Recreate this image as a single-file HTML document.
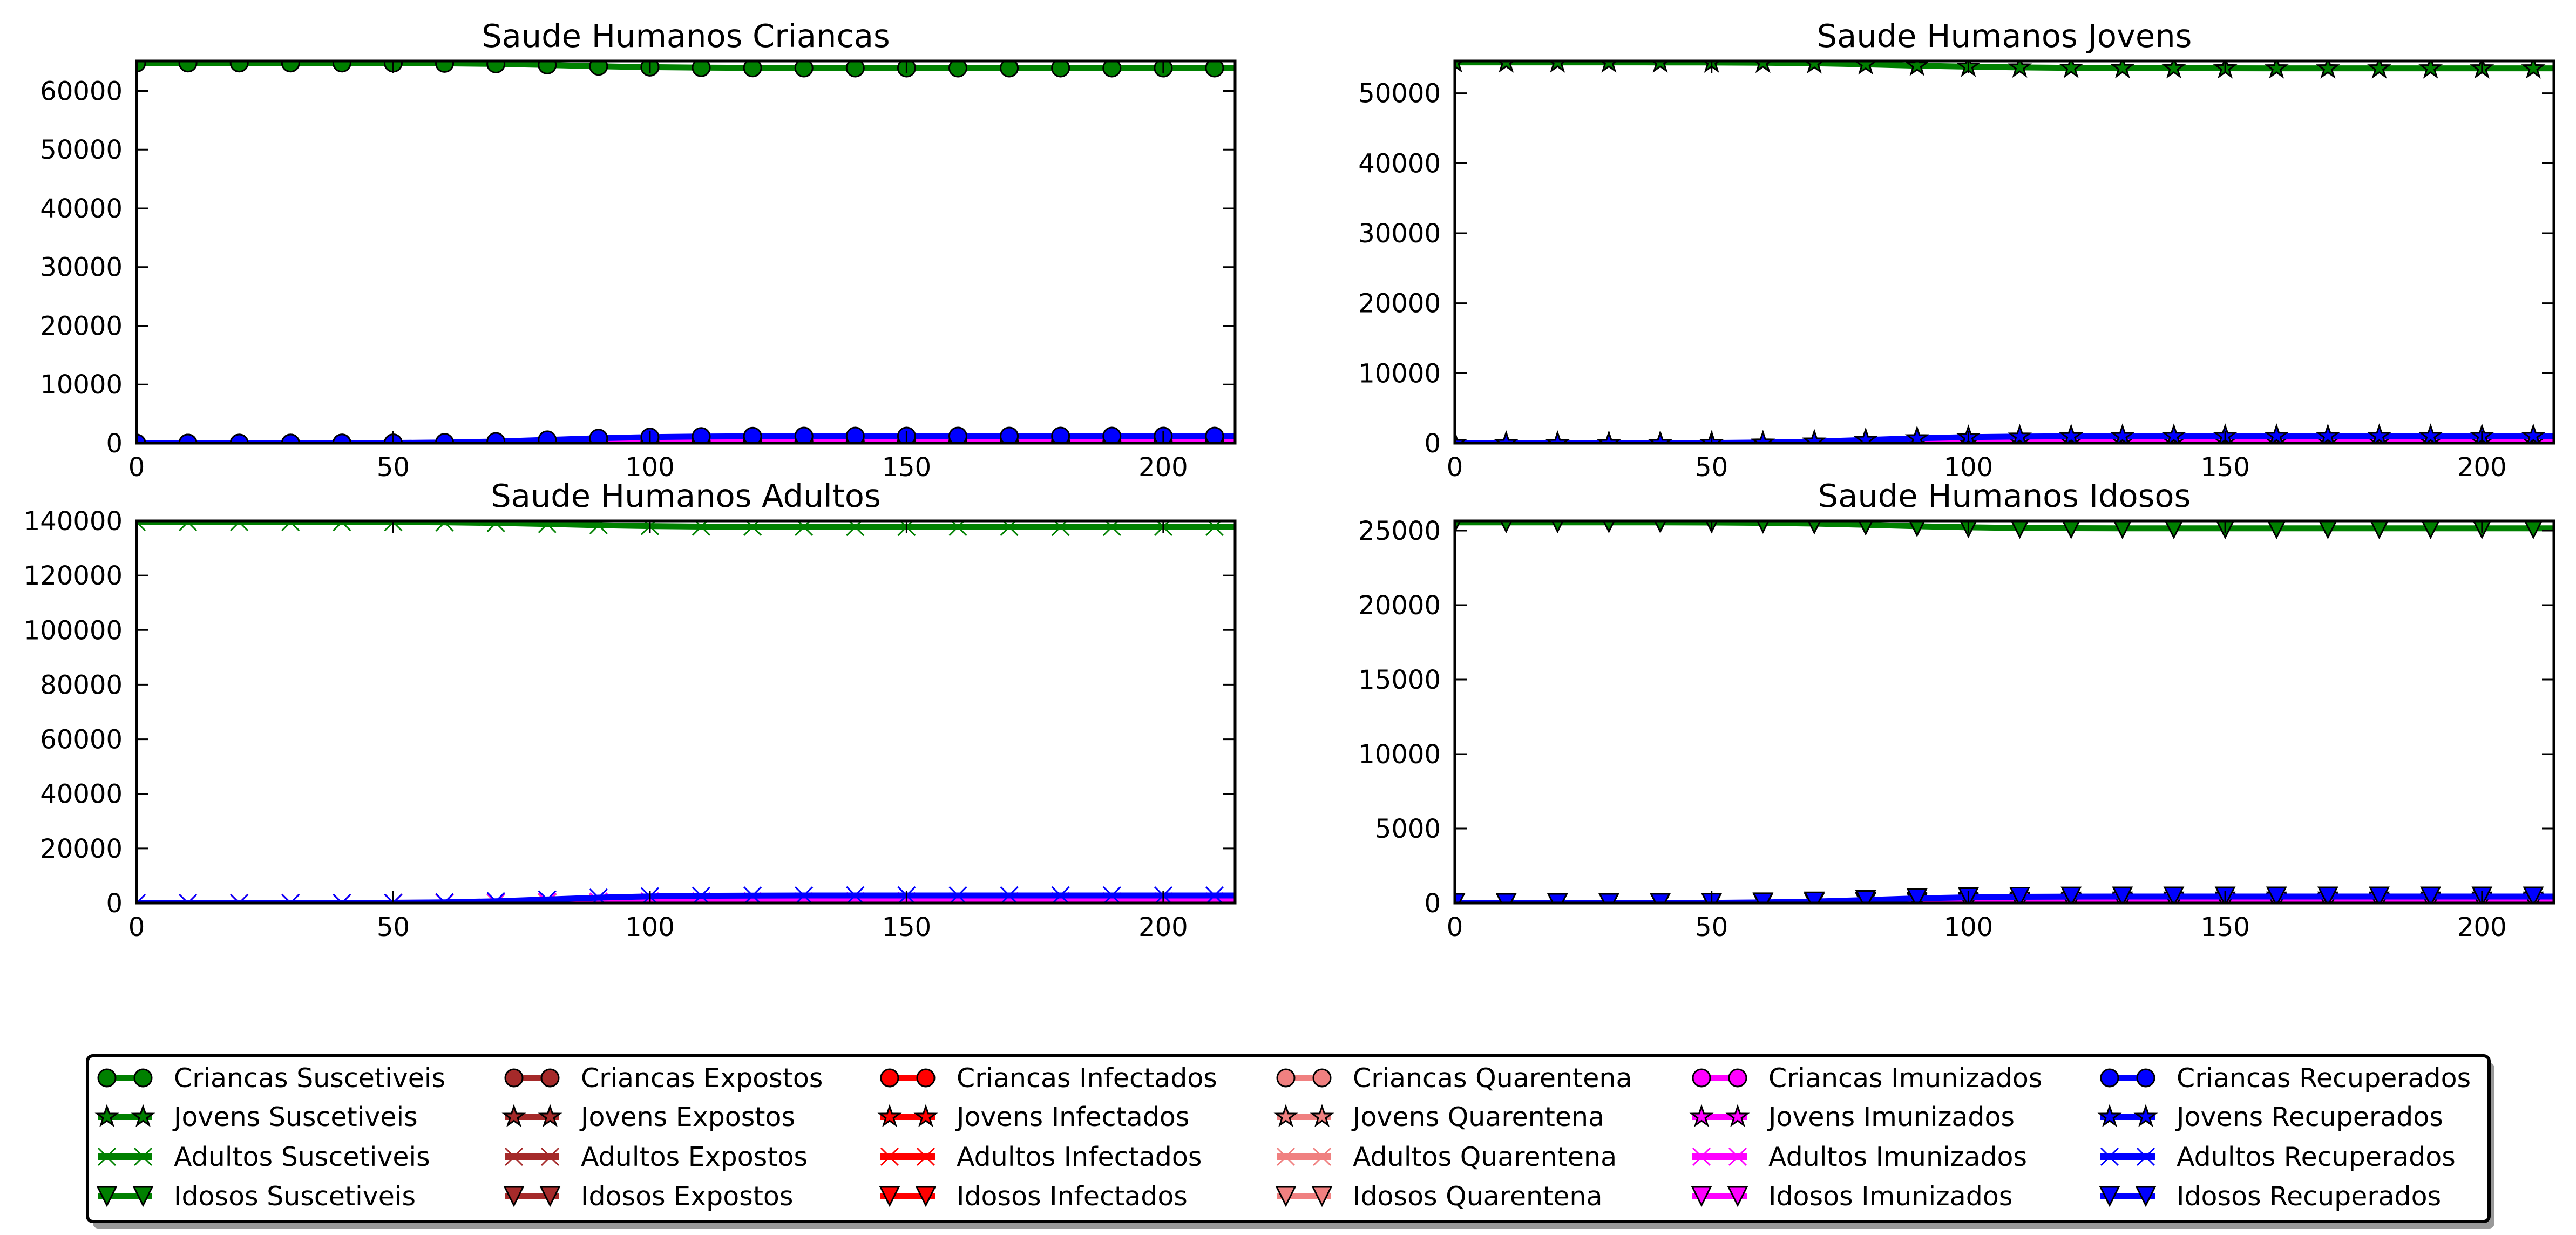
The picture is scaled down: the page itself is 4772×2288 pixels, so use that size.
<!DOCTYPE html>
<html><head><meta charset="utf-8"><style>
html,body{margin:0;padding:0;background:#fff;}
svg{display:block;}
text{font-family:"DejaVu Sans","Liberation Sans",sans-serif;fill:#000;}
</style></head><body>
<svg id="fig" xmlns="http://www.w3.org/2000/svg" width="4772" height="2288" viewBox="0 0 4772 2288">
<rect width="4772" height="2288" fill="#fff"/>
</svg>
<script>
// ---- data ----
const times = [0,10,20,30,40,50,60,70,80,90,100,110,120,130,140,150,160,170,180,190,200,210,214];

const criancasSusc = [64760,64760,64760,64760,64750,64740,64700,64600,64420,64200,64050,63970,63930,63910,63900,63900,63900,63900,63900,63900,63900,63900,63900];
const criancasExp  = [0,5,10,15,25,40,60,80,70,45,25,12,6,3,2,1,1,0,0,0,0,0,0];
const criancasInf  = [0,3,6,10,15,25,40,55,50,35,20,10,5,3,2,1,1,0,0,0,0,0,0];
const criancasQuar = [0,1,2,4,6,10,15,20,18,12,7,4,2,1,1,0,0,0,0,0,0,0,0];
const criancasImun = [0,0,0,2,5,15,40,100,170,220,245,255,260,262,263,263,263,263,263,263,263,263,263];
const criancasRec  = [0,0,0,5,15,40,110,280,560,850,1040,1130,1170,1190,1200,1200,1200,1200,1200,1200,1200,1200,1200];

const jovensSusc = [54400,54400,54400,54400,54395,54385,54350,54270,54120,53930,53790,53680,53620,53590,53570,53560,53555,53550,53550,53550,53550,53550,53550];
const jovensExp  = [0,4,8,13,20,32,50,65,58,38,20,10,5,3,2,1,1,0,0,0,0,0,0];
const jovensInf  = [0,2,5,8,12,20,33,45,40,28,16,8,4,2,1,1,0,0,0,0,0,0,0];
const jovensQuar = [0,1,2,3,5,8,12,16,14,10,6,3,2,1,1,0,0,0,0,0,0,0,0];
const jovensImun = [0,0,0,2,4,12,30,80,140,180,200,210,215,217,218,218,218,218,218,218,218,218,218];
const jovensRec  = [0,0,0,4,12,30,90,230,460,700,860,940,980,1000,1010,1010,1010,1010,1010,1010,1010,1010,1010];

const adultosSusc = [139600,139600,139600,139600,139590,139560,139480,139250,138880,138420,138100,137920,137850,137820,137800,137800,137800,137800,137800,137800,137800,137800,137800];
const adultosExp  = [0,10,20,35,60,100,150,190,170,110,60,30,15,8,4,2,1,0,0,0,0,0,0];
const adultosInf  = [0,6,12,22,38,62,95,125,110,75,42,20,10,5,3,1,1,0,0,0,0,0,0];
const adultosQuar = [0,2,4,7,12,20,30,40,35,24,14,7,3,2,1,0,0,0,0,0,0,0,0];
const adultosImun = [0,0,0,5,10,30,90,220,420,560,620,650,660,662,663,663,663,663,663,663,663,663,663];
const adultosRec  = [0,0,0,10,30,90,250,650,1300,1980,2430,2640,2730,2760,2770,2770,2770,2770,2770,2770,2770,2770,2770];

const idososSusc = [25550,25550,25550,25550,25548,25540,25520,25470,25390,25290,25220,25180,25160,25155,25150,25150,25150,25150,25150,25150,25150,25150,25150];
const idososExp  = [0,2,4,6,10,16,24,30,27,18,10,5,2,1,1,0,0,0,0,0,0,0,0];
const idososInf  = [0,1,2,4,6,10,15,20,18,12,7,3,2,1,0,0,0,0,0,0,0,0,0];
const idososQuar = [0,0,1,1,2,3,5,7,6,4,2,1,1,0,0,0,0,0,0,0,0,0,0];
const idososImun = [0,0,0,1,2,5,15,35,60,80,90,95,97,98,98,98,98,98,98,98,98,98,98];
const idososRec  = [0,0,0,2,5,15,40,100,200,310,380,415,430,435,435,435,435,435,435,435,435,435,435];

const xTicks = [0,50,100,150,200];
const yTicksCriancas = [0,10000,20000,30000,40000,50000,60000];
const yTicksJovens = [0,10000,20000,30000,40000,50000];
const yTicksAdultos = [0,20000,40000,60000,80000,100000,120000,140000];
const yTicksIdosos = [0,5000,10000,15000,20000,25000];

const compartments = ["Suscetiveis","Expostos","Infectados","Quarentena","Imunizados","Recuperados"];
const groups = ["Criancas","Jovens","Adultos","Idosos"];

// ---- drawing ----
const NS = "http://www.w3.org/2000/svg";
const svg = document.getElementById("fig");
const colors = ["#008000","#A52A2A","#FF0000","#F08080","#FF00FF","#0000FF"];
const markers = ["circle","star","x","tri"];
function mk(tag, attrs, parent){ const e=document.createElementNS(NS,tag); for(const k in attrs) e.setAttribute(k,attrs[k]); (parent||svg).appendChild(e); return e; }

function drawMarker(g, type, cx, cy, color){
  let e;
  if(type==="circle"){ e=mk("circle",{cx:cx,cy:cy,r:16,fill:color,stroke:"#000","stroke-width":3},g); }
  else if(type==="star"){
    const pts=[]; for(let i=0;i<10;i++){ const r=i%2?7.5:19; const a=-Math.PI/2+i*Math.PI/5; pts.push((cx+r*Math.cos(a)).toFixed(1)+","+(cy+r*Math.sin(a)).toFixed(1)); }
    e=mk("polygon",{points:pts.join(" "),fill:color,stroke:"#000","stroke-width":3},g);
  } else if(type==="x"){
    e=mk("path",{d:`M${cx-16},${cy-16}L${cx+16},${cy+16}M${cx-16},${cy+16}L${cx+16},${cy-16}`,stroke:color,"stroke-width":3,fill:"none"},g);
  } else {
    e=mk("polygon",{points:`${cx-17},${cy-17} ${cx+17},${cy-17} ${cx},${cy+17}`,fill:color,stroke:"#000","stroke-width":3},g);
  }
  
  
}

const panels = [
  {name:"criancas", title:"Saude Humanos Criancas", x0:253,x1:2288,y0:113,y1:821,ymax:65100,ticks:yTicksCriancas,
   series:[criancasSusc,criancasExp,criancasInf,criancasQuar,criancasImun,criancasRec], marker:"circle"},
  {name:"jovens", title:"Saude Humanos Jovens", x0:2695,x1:4731,y0:113,y1:821,ymax:54600,ticks:yTicksJovens,
   series:[jovensSusc,jovensExp,jovensInf,jovensQuar,jovensImun,jovensRec], marker:"star"},
  {name:"adultos", title:"Saude Humanos Adultos", x0:253,x1:2288,y0:965,y1:1673,ymax:140000,ticks:yTicksAdultos,
   series:[adultosSusc,adultosExp,adultosInf,adultosQuar,adultosImun,adultosRec], marker:"x"},
  {name:"idosos", title:"Saude Humanos Idosos", x0:2695,x1:4731,y0:965,y1:1673,ymax:25650,ticks:yTicksIdosos,
   series:[idososSusc,idososExp,idososInf,idososQuar,idososImun,idososRec], marker:"tri"}
];
const XMAX = 214;

panels.forEach((p,pi)=>{
  const g = mk("g",{});
  
  
  const sx = v => p.x0 + (v/XMAX)*(p.x1-p.x0);
  const sy = v => p.y1 - (v/p.ymax)*(p.y1-p.y0);
  const cid = "clip"+pi;
  const cp = mk("clipPath",{id:cid},g); mk("rect",{x:p.x0,y:p.y0,width:p.x1-p.x0,height:p.y1-p.y0},cp);
  const plot = mk("g",{"clip-path":`url(#${cid})`},g);
  p.series.forEach((vals,si)=>{
    const d = vals.map((v,i)=>(i?"L":"M")+sx(times[i]).toFixed(1)+","+sy(v).toFixed(1)).join("");
    const ln = mk("path",{d:d,stroke:colors[si],"stroke-width":11,fill:"none","stroke-linejoin":"round"},plot);
    
    
    vals.forEach((v,i)=>{ if(times[i]%10===0) drawMarker(plot,p.marker,sx(times[i]),sy(v),colors[si]); });
  });
  // frame
  const fr = mk("rect",{x:p.x0,y:p.y0,width:p.x1-p.x0,height:p.y1-p.y0,fill:"none",stroke:"#000","stroke-width":5},g);
  
  
  // y ticks
  p.ticks.forEach(t=>{
    const y = sy(t);
    mk("line",{x1:p.x0,y1:y,x2:p.x0+22,y2:y,stroke:"#000","stroke-width":3},g);
    mk("line",{x1:p.x1,y1:y,x2:p.x1-22,y2:y,stroke:"#000","stroke-width":3},g);
    const tx = mk("text",{x:p.x0-26,y:y+17,"text-anchor":"end","font-size":48},g);
    tx.textContent = t;
    
    
  });
  xTicks.forEach(t=>{
    const x = sx(t);
    mk("line",{x1:x,y1:p.y1,x2:x,y2:p.y1-22,stroke:"#000","stroke-width":3},g);
    mk("line",{x1:x,y1:p.y0,x2:x,y2:p.y0+22,stroke:"#000","stroke-width":3},g);
    const tx = mk("text",{x:x,y:p.y1+61,"text-anchor":"middle","font-size":48},g);
    tx.textContent = t;
    
    
  });
  const ti = mk("text",{x:(p.x0+p.x1)/2,y:p.y0-26,"text-anchor":"middle","font-size":59},g);
  ti.textContent = p.title;
  
  
});

// ---- legend ----
const lg = mk("g",{});


mk("rect",{x:172,y:1969,width:4449,height:307,rx:10,fill:"#999"},lg);
mk("rect",{x:162,y:1956,width:4449,height:307,rx:10,fill:"#fff",stroke:"#000","stroke-width":6},lg);
const colX = [181,935,1631,2365,3135,3891];
const rowY = [1997,2069,2143,2216];
compartments.forEach((c,ci)=>{
  groups.forEach((gname,gi)=>{
    const x = colX[ci], y = rowY[gi];
    const ent = mk("g",{},lg);
    
    
    mk("line",{x1:x,y1:y,x2:x+101,y2:y,stroke:colors[ci],"stroke-width":12},ent);
    drawMarker(ent,markers[gi],x+17,y,colors[ci]);
    drawMarker(ent,markers[gi],x+84,y,colors[ci]);
    const t = mk("text",{x:x+141,y:y+17,"font-size":49},ent);
    t.textContent = gname+" "+c;
  });
});
</script>
</body></html>
